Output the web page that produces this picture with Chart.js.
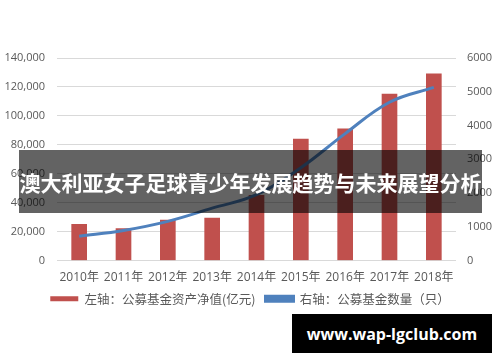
<!DOCTYPE html>
<html>
<head>
<meta charset="utf-8">
<script src="https://cdn.jsdelivr.net/npm/chart.js@4"></script>
<style>
    html, body { margin: 0; padding: 0; background: #fff; }
    #wrap { position: relative; width: 500px; height: 362px; overflow: hidden; }
    #banner {
        position: absolute; left: 19px; top: 150px; width: 463px; height: 63px;
        background: rgba(0, 0, 0, 0.61); color: #fff;
        font: bold 21px 'Noto Sans CJK SC', sans-serif;
        display: flex; align-items: center; justify-content: center; white-space: nowrap;
    }
    #mark {
        position: absolute; left: 292px; top: 314px; width: 200px; height: 39px;
        background: #000; color: #fff;
        font: bold 16px 'Open Sans', sans-serif;
        display: flex; align-items: center; justify-content: center;
    }
</style>
</head>
<body>
<div id="wrap">
    <canvas id="chart" width="500" height="362"></canvas>
    <div id="banner">澳大利亚女子足球青少年发展趋势与未来展望分析</div>
    <div id="mark">www.wap-lgclub.com</div>
</div>
<script>
'use strict';

// 数据
const years = ['2010年', '2011年', '2012年', '2013年', '2014年', '2015年', '2016年', '2017年', '2018年'];
const fundAssets = [25000, 22000, 28000, 29300, 45000, 84000, 91000, 115000, 129000];
const fundCount = [720, 890, 1160, 1550, 1950, 2750, 3760, 4690, 5130];
const leftTicks = { min: 0, max: 140000, step: 20000 };
const rightTicks = { min: 0, max: 6000, step: 1000 };

const textColor = '#595959';
const gridColor = '#d9d9d9';
const tickFont = { family: "'Open Sans', 'Noto Sans CJK SC', sans-serif", size: 11 };

new Chart(document.getElementById('chart').getContext('2d'), {
    data: {
        labels: years,
        datasets: [
            {
                type: 'bar',
                label: '左轴：公募基金资产净值(亿元)',
                data: fundAssets,
                backgroundColor: '#c0504d',
                yAxisID: 'y',
                barThickness: 15,
                order: 2
            },
            {
                type: 'line',
                label: '右轴：公募基金数量（只）',
                data: fundCount,
                borderColor: '#4f81bd',
                backgroundColor: '#4f81bd',
                borderWidth: 3,
                pointRadius: 0,
                tension: 0.4,
                yAxisID: 'y1',
                order: 1
            }
        ]
    },
    options: {
        responsive: false,
        animation: false,
        devicePixelRatio: 1,
        layout: { padding: { top: 58, left: 0, right: 0, bottom: 47 } },
        plugins: {
            tooltip: { enabled: false },
            legend: {
                position: 'bottom',
                labels: {
                    color: textColor,
                    boxWidth: 28,
                    boxHeight: 5,
                    padding: 10,
                    font: { family: "'Noto Sans CJK SC', sans-serif", size: 12.5 },
                    sort: (a, b) => a.datasetIndex - b.datasetIndex
                }
            }
        },
        scales: {
            x: {
                grid: { display: false },
                border: { display: false },
                ticks: { color: textColor, padding: 2, maxRotation: 0, font: { ...tickFont, size: 12 } },
                afterFit: (s) => { s.height = 22; }
            },
            y: {
                position: 'left',
                min: leftTicks.min, max: leftTicks.max,
                grid: { color: gridColor, drawTicks: false },
                border: { display: false },
                ticks: {
                    stepSize: leftTicks.step, color: textColor, padding: 12, font: tickFont,
                    callback: (v) => v.toLocaleString('en-US')
                },
                afterFit: (s) => { s.width = 57; }
            },
            y1: {
                position: 'right',
                min: rightTicks.min, max: rightTicks.max,
                grid: { display: false, drawTicks: false },
                border: { display: false },
                ticks: {
                    stepSize: rightTicks.step, color: textColor, padding: 11, font: tickFont,
                    callback: (v) => String(v)
                },
                afterFit: (s) => { s.width = 44; }
            }
        }
    }
});
</script>
</body>
</html>
